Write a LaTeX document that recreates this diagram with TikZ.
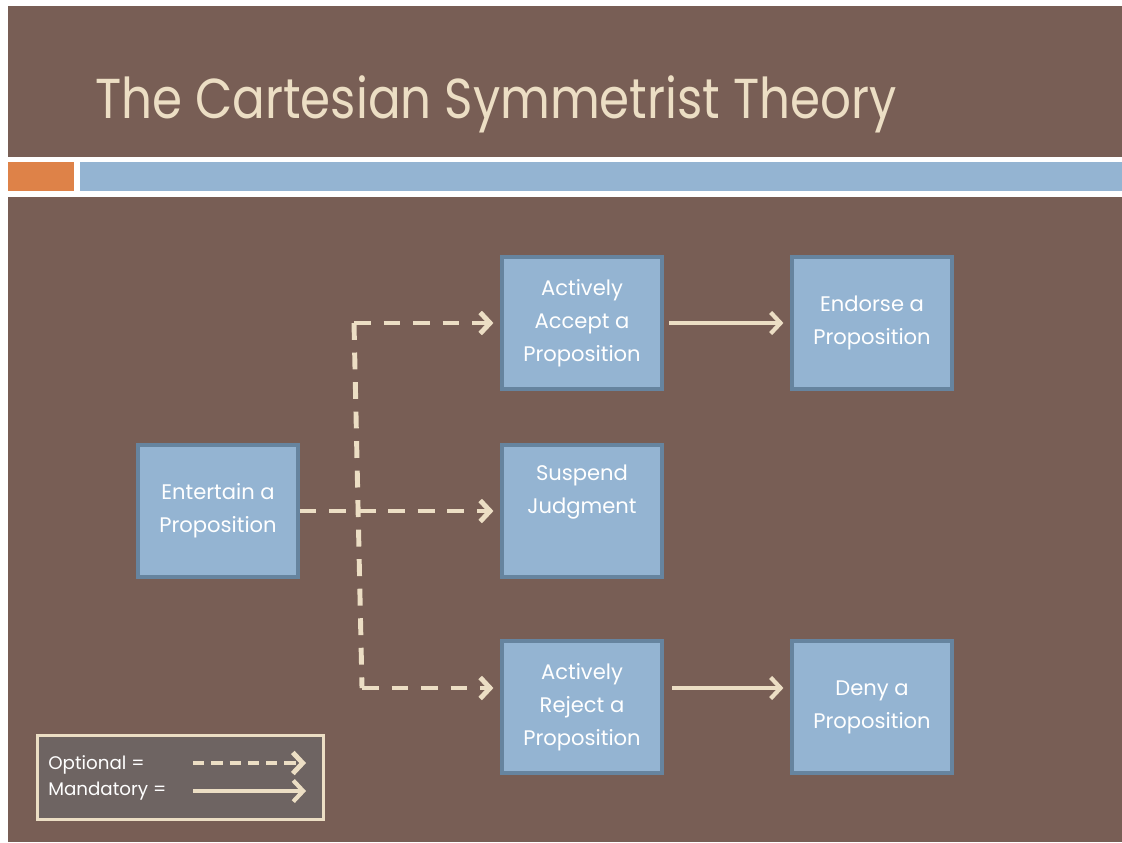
\documentclass[tikz,border=0pt]{standalone}
\usepackage{fontspec}
\setmainfont{Poppins}
\newfontfamily\titlefont{Poppins}[FakeStretch=0.86]
\usetikzlibrary{arrows.meta,positioning}

\definecolor{slidebrown}{HTML}{785E55}
\definecolor{barorange}{HTML}{DE8248}
\definecolor{barblue}{HTML}{94B4D2}
\definecolor{boxblue}{HTML}{94B4D2}
\definecolor{boxedge}{HTML}{66849F}
\definecolor{cream}{HTML}{ECDEC4}
\definecolor{legendgrey}{HTML}{6E6462}

\tikzset{
  propbox/.style={draw=boxedge, fill=boxblue, line width=2.2pt, minimum width=4cm, minimum height=3.3cm,
    inner sep=0pt, text=white, align=center, font=\fontsize{15}{23.5}\selectfont,
    execute at begin node={\rule{0pt}{22pt}}},
  optional/.style={draw=cream, line width=3.5pt, dash pattern=on 12pt off 9pt,
    -{Straight Barb[length=7pt,width=15pt,line width=3.5pt]}},
  mandatory/.style={draw=cream, line width=3pt, -{Straight Barb[length=7pt,width=15pt,line width=3pt]}},
}

\begin{document}
\begin{tikzpicture}[x=0.025cm, y=-0.025cm]
    \useasboundingbox[fill=white] (0,0) rectangle (1122,842);

    % slide background
    \fill[slidebrown] (8,6) rectangle (1122,157);
    \fill[barorange] (8,162) rectangle (74,191);
    \fill[barblue] (80,162) rectangle (1122,191);
    \fill[slidebrown] (8,197) rectangle (1122,842);

    \node[anchor=base west, text=cream, font=\titlefont\fontsize{40}{40}\selectfont, inner sep=0pt] (title) at (95,118) {The Cartesian Symmetrist Theory};

    % boxes
    \node[propbox] (ent) at (218,511) {Entertain a\\Proposition};
    \node[propbox] (acc) at (582,323) {Actively\\Accept a\\Proposition};
    \node[propbox] (susp) at (582,511) {Suspend\\Judgment\\\strut};
    \node[propbox] (rej) at (582,707) {Actively\\Reject a\\Proposition};
    \node[propbox] (end) at (872,323) {Endorse a\\Proposition};
    \node[propbox] (deny) at (872,707) {Deny a\\Proposition};

    \coordinate (jt) at (354,323);
    \coordinate (jb) at (362,688);

    \draw[optional, shorten >=5pt] (ent.east) -- (susp.west);
    \draw[optional, -] (jt) -- (jb);
    \draw[optional, shorten >=5pt] (jt) -- (acc.west);
    \draw[optional, shorten >=5pt] (jb) -- (rej.west |- jb);

    \draw[mandatory, shorten <=4pt, shorten >=5pt] (acc.east) -- (end.west);
    \draw[mandatory, shorten <=6pt, shorten >=5pt] ([yshift=0.475cm]rej.east) -- ([yshift=0.475cm]deny.west);

    % legend
    \node[draw=cream, fill=legendgrey, line width=2pt, minimum width=7.15cm, minimum height=2.1cm, anchor=north west] (legend) at (36,734) {};
    \node[anchor=west, text=white, font=\fontsize{13}{13}\selectfont, inner sep=0pt] (optlabel) at (48,765) {Optional =};
    \node[anchor=west, text=white, font=\fontsize{13}{13}\selectfont, inner sep=0pt] (mandlabel) at (48,791) {Mandatory =};
    \coordinate (optstart) at (193,763);
    \coordinate (optend) at (306,763);
    \coordinate (mandstart) at (193,791);
    \coordinate (mandend) at (306,791);
    \draw[optional, line width=2.5pt, dash pattern=on 8pt off 5pt] (optstart) -- (optend);
    \draw[mandatory, line width=2.5pt] (mandstart) -- (mandend);
\end{tikzpicture}
\end{document}
